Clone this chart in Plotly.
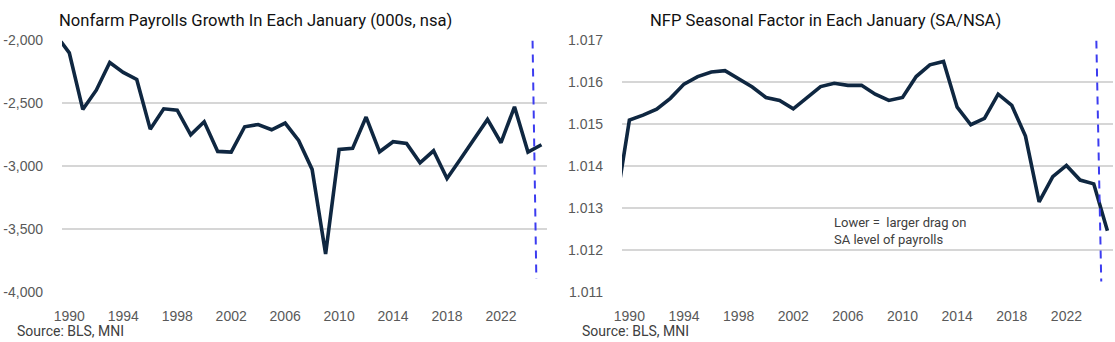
import plotly.graph_objects as go

# January of each year (1989 sits just off the left edge of both panels)
years = list(range(1989, 2026))

# Nonfarm payrolls change in January, thousands, not seasonally adjusted
nfp_jan_nsa = [
    -1955, -2098, -2548, -2395, -2175, -2254, -2310, -2705, -2543, -2554,
    -2750, -2646, -2882, -2887, -2686, -2668, -2710, -2657, -2795, -3025,
    -3698, -2866, -2858, -2609, -2885, -2805, -2818, -2972, -2877, -3097,
    -2943, -2787, -2628, -2813, -2527, -2887, -2829,
]

# January seasonal factor (SA / NSA)
seasonal_factor = [
    1.01304, 1.01510, 1.01522, 1.01536, 1.01562, 1.01596, 1.01614, 1.01625,
    1.01628, 1.01608, 1.01589, 1.01564, 1.01557, 1.01537, 1.01564, 1.01590,
    1.01598, 1.01593, 1.01593, 1.01572, 1.01557, 1.01564, 1.01614, 1.01642,
    1.01650, 1.01541, 1.01499, 1.01514, 1.01572, 1.01545, 1.01472, 1.01315,
    1.01375, 1.01402, 1.01367, 1.01358, 1.01246,
]

left_ticks = [-4000, -3500, -3000, -2500, -2000]
left_tick_labels = ["-4,000", "-3,500", "-3,000", "-2,500", "-2,000"]
right_ticks = [1.011, 1.012, 1.013, 1.014, 1.015, 1.016, 1.017]
right_tick_labels = ["1.011", "1.012", "1.013", "1.014", "1.015", "1.016", "1.017"]

# Dashed marker separating the latest January (top and bottom points)
left_marker_x = [2024.34, 2024.62]
left_marker_y = [-2000, -3895]
right_marker_x = [2024.19, 2024.55]
right_marker_y = [1.017, 1.01125]

W, H = 1115, 342
LINE = "#0f2741"
GRID = "#d6d6d6"
TICK = "#595959"
DASH = "#3c3cf0"

fig = go.Figure()
fig.add_trace(go.Scatter(x=years, y=nfp_jan_nsa, mode="lines",
                         line=dict(color=LINE, width=3.6), xaxis="x", yaxis="y",
                         showlegend=False))
fig.add_trace(go.Scatter(x=years, y=seasonal_factor, mode="lines",
                         line=dict(color=LINE, width=3.6), xaxis="x2", yaxis="y2",
                         showlegend=False))

fig.add_shape(type="line", xref="x", yref="y",
              x0=left_marker_x[0], y0=left_marker_y[0],
              x1=left_marker_x[1], y1=left_marker_y[1],
              line=dict(color=DASH, width=2, dash="8px,6px"))
fig.add_shape(type="line", xref="x2", yref="y2",
              x0=right_marker_x[0], y0=right_marker_y[0],
              x1=right_marker_x[1], y1=right_marker_y[1],
              line=dict(color=DASH, width=2, dash="8px,6px"))

y_dom = [1 - 292 / H, 1 - 40.5 / H]
tick_font = dict(family="Liberation Sans, Arial, sans-serif", size=14, color=TICK)
xcommon = dict(tickmode="linear", tick0=1990, dtick=4, showgrid=False,
               zeroline=False, showline=False, ticks="", tickfont=tick_font,
               ticklabelstandoff=14, range=[1989.46, 2025.41], fixedrange=True,
               automargin=False)
ycommon = dict(showgrid=True, gridcolor=GRID, gridwidth=2, zeroline=False,
               showline=False, ticks="", tickfont=tick_font,
               ticklabelstandoff=18, domain=y_dom, fixedrange=True,
               automargin=False)

text_font = "Roboto, Liberation Sans, sans-serif"

fig.update_layout(
    width=W, height=H,
    margin=dict(l=0, r=0, t=0, b=0),
    paper_bgcolor="white", plot_bgcolor="white",
    xaxis=dict(domain=[62 / W, 547 / W], anchor="y", **xcommon),
    yaxis=dict(anchor="x", range=[-4000, -2000], tickvals=left_ticks,
               ticktext=left_tick_labels, **ycommon),
    xaxis2=dict(domain=[622 / W, 1113 / W], anchor="y2", **xcommon),
    yaxis2=dict(anchor="x2", range=[1.011, 1.017], tickvals=right_ticks,
                ticktext=right_tick_labels, **ycommon),
    annotations=[
        dict(text="Nonfarm Payrolls Growth In Each January (000s, nsa)",
             xref="paper", yref="paper", x=57 / W, y=1 - 21 / H,
             xanchor="left", yanchor="middle", showarrow=False,
             font=dict(family=text_font, size=16.6, color="#111111")),
        dict(text="NFP Seasonal Factor in Each January (SA/NSA)",
             xref="paper", yref="paper", x=648 / W, y=1 - 21 / H,
             xanchor="left", yanchor="middle", showarrow=False,
             font=dict(family=text_font, size=16.6, color="#111111")),
        dict(text="Source: BLS, MNI", xref="paper", yref="paper",
             x=15 / W, y=1 - 331 / H, xanchor="left", yanchor="middle",
             showarrow=False, font=dict(family=text_font, size=14, color="#404040")),
        dict(text="Source: BLS, MNI", xref="paper", yref="paper",
             x=580 / W, y=1 - 331 / H, xanchor="left", yanchor="middle",
             showarrow=False, font=dict(family=text_font, size=14, color="#404040")),
        dict(text="Lower =  larger drag on<br>SA level of payrolls",
             xref="paper", yref="paper", x=832 / W, y=1 - 231 / H,
             xanchor="left", yanchor="middle", align="left", showarrow=False,
             font=dict(family=text_font, size=13, color="#404040")),
    ],
)

fig.write_html("out.html")
